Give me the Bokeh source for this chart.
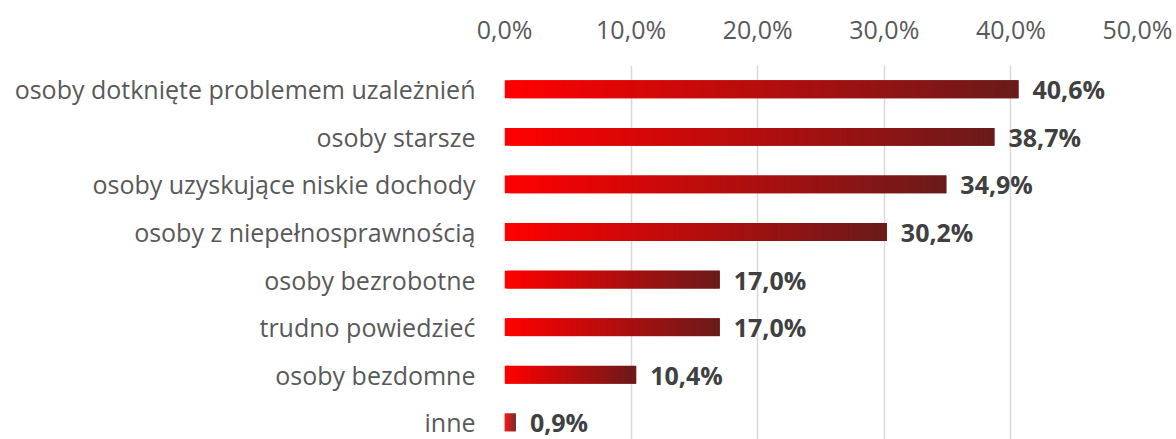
from bokeh.plotting import figure
from bokeh.models import Range1d, FixedTicker, LinearAxis, ColumnDataSource, Grid
from bokeh.core.properties import value
from bokeh.embed import file_html
from bokeh.resources import INLINE

categories = [
    "osoby dotknięte problemem uzależnień",
    "osoby starsze",
    "osoby uzyskujące niskie dochody",
    "osoby z niepełnosprawnością",
    "osoby bezrobotne",
    "trudno powiedzieć",
    "osoby bezdomne",
    "inne",
]
values = [40.6, 38.7, 34.9, 30.2, 17.0, 17.0, 10.4, 0.9]
value_labels = ["40,6%", "38,7%", "34,9%", "30,2%", "17,0%", "17,0%", "10,4%", "0,9%"]
tick_values = [0, 10, 20, 30, 40, 50]
tick_labels = ["0,0%", "10,0%", "20,0%", "30,0%", "40,0%", "50,0%"]

FONT = "Open Sans"
W, H = 1176, 439
n = len(categories)
ypos = list(range(n))

p = figure(width=W, height=H, output_backend="svg", toolbar_location=None,
           x_range=Range1d(0, 50), y_range=Range1d(n - 1 + 0.36, -0.499),
           x_axis_location=None, y_axis_location=None,
           min_border_left=504, min_border_right=39, min_border_top=65, min_border_bottom=0)
p.outline_line_color = None
p.background_fill_color = "white"
p.border_fill_color = "white"
p.xgrid.grid_line_color = None
p.ygrid.grid_line_color = None

# gradient bars: slices of each bar, each overlapping the next one slightly
N = 90
c0 = (255, 0, 0)
c1 = (107, 26, 26)
lefts, rights, ys, cols = [], [], [], []
for i, v in enumerate(values):
    for k in range(N):
        t = k / (N - 1)
        r = int(round(c0[0] + (c1[0] - c0[0]) * t))
        g = int(round(c0[1] + (c1[1] - c0[1]) * t))
        b = int(round(c0[2] + (c1[2] - c0[2]) * t))
        lefts.append(v * k / N)
        rights.append(min(v, v * (k + 2) / N))
        ys.append(ypos[i])
        cols.append("#%02x%02x%02x" % (r, g, b))
src = ColumnDataSource(dict(left=lefts, right=rights, y=ys, color=cols))

top = LinearAxis(ticker=FixedTicker(ticks=tick_values),
                 major_label_overrides={t: l for t, l in zip(tick_values, tick_labels)})
top.axis_line_color = None
top.major_tick_line_color = None
top.minor_tick_line_color = None
top.major_label_text_font = FONT
top.major_label_text_font_size = "25px"
top.major_label_text_color = "#595959"
top.major_label_standoff = 14
p.add_layout(top, "above")

grid = Grid(dimension=0, ticker=FixedTicker(ticks=tick_values),
            grid_line_color="#D9D9D9", grid_line_width=1.5)
p.add_layout(grid)

p.hbar(y="y", left="left", right="right", height=0.375, fill_color="color",
       line_color=None, source=src)

left = LinearAxis(ticker=FixedTicker(ticks=ypos),
                  major_label_overrides={i: c for i, c in zip(ypos, categories)})
left.axis_line_color = None
left.major_tick_line_color = None
left.minor_tick_line_color = None
left.major_label_text_font = FONT
left.major_label_text_font_size = "25px"
left.major_label_text_color = "#595959"
left.major_label_standoff = 23
p.add_layout(left, "left")

lsrc = ColumnDataSource(dict(x=values, y=ypos, t=value_labels))
p.text(x="x", y="y", text="t", source=lsrc, x_offset=14,
       text_baseline="middle", text_align="left",
       text_font=value(FONT), text_font_style="bold", text_font_size="25px",
       text_color="#404040")

open("out.html", "w").write(file_html(p, INLINE))
